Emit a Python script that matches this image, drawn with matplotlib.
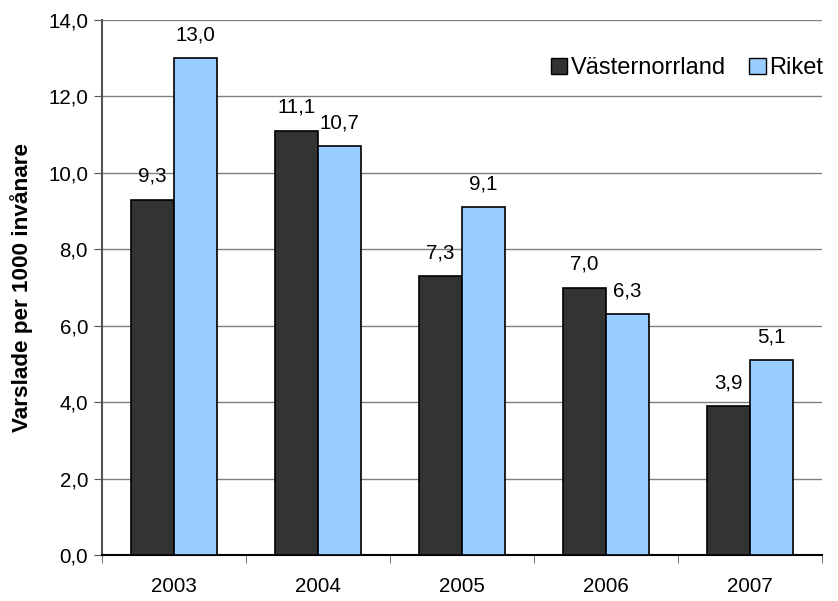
import matplotlib
matplotlib.use("Agg")
import matplotlib.pyplot as plt
import numpy as np
from matplotlib.patches import Patch

plt.rcParams['font.family'] = ['Liberation Sans', 'DejaVu Sans']

years = ['2003', '2004', '2005', '2006', '2007']
vasternorrland = [9.3, 11.1, 7.3, 7.0, 3.9]
riket = [13.0, 10.7, 9.1, 6.3, 5.1]
yticks = [0, 2, 4, 6, 8, 10, 12, 14]

W, H = 838, 601
fig = plt.figure(figsize=(W/100, H/100), dpi=100)
ax = fig.add_axes([102/W, (H-555)/H, (822-102)/W, (555-20)/H])

x = np.arange(len(years))
bw = 0.3
dark = '#333333'
light = '#99CCFF'
fs = 14.8
b1 = ax.bar(x - bw/2, vasternorrland, bw, color=dark, edgecolor='black', linewidth=1.2, zorder=3)
b2 = ax.bar(x + bw/2, riket, bw, color=light, edgecolor='black', linewidth=1.2, zorder=3)

for bars, vals in ((b1, vasternorrland), (b2, riket)):
    for r, v in zip(bars, vals):
        ax.annotate(f"{v:.1f}".replace('.', ','), (r.get_x() + r.get_width()/2, v),
                    xytext=(0, 10), textcoords='offset points', ha='center', va='bottom',
                    fontsize=fs)

ax.set_xlim(-0.5, len(years) - 0.5)
ax.set_ylim(0, 14)
ax.set_yticks(yticks)
ax.set_yticklabels([f"{t:.1f}".replace('.', ',') for t in yticks], fontsize=fs)
ax.set_xticks(x)
ax.set_xticklabels(years, fontsize=fs)
ax.set_xticks(np.arange(-0.5, len(years)), minor=True)
ax.tick_params(axis='x', which='major', length=0, pad=16)
ax.tick_params(axis='x', which='minor', length=6, direction='out', color='#555555')
ax.tick_params(axis='y', length=6, direction='out', color='#555555', pad=4)

ax.yaxis.grid(True, color='#808080', linewidth=1, zorder=0)
ax.set_axisbelow(True)
for s in ('top', 'right'):
    ax.spines[s].set_visible(False)
ax.spines['left'].set_color('#555555')
ax.spines['left'].set_linewidth(1.5)
ax.spines['bottom'].set_color('black')
ax.spines['bottom'].set_linewidth(1.5)

ax.set_ylabel('Varslade per 1000 invånare', fontsize=16.2, fontweight='bold', labelpad=11)

handles = [Patch(facecolor=dark, edgecolor='black', label='Västernorrland'),
           Patch(facecolor=light, edgecolor='black', label='Riket')]
ax.legend(handles=handles, loc='center right', bbox_to_anchor=(1.002, 0.91), frameon=False,
          fontsize=17, ncol=2, handlelength=0.7, handleheight=0.7, handletextpad=0.15,
          columnspacing=1.0, borderpad=0, borderaxespad=0)

fig.savefig('out.png', dpi=100)
